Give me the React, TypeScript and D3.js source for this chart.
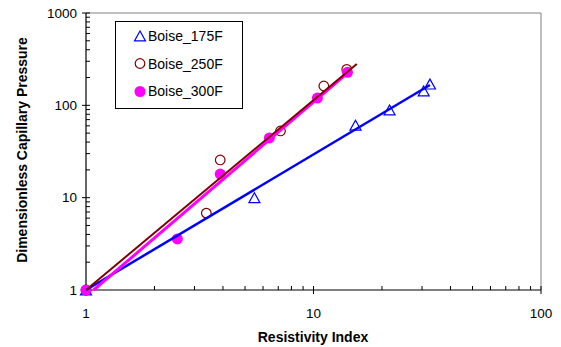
import React from "react";
import * as d3 from "d3";

const ri175 = [1, 5.5, 15.3, 21.6, 30.5, 32.5];
const pc175 = [1, 10, 61, 89, 143, 170];
const ri250 = [1, 3.38, 3.89, 7.16, 11.1, 14.0];
const pc250 = [1, 6.8, 25.6, 52.8, 162, 245];
const ri300 = [1, 2.52, 3.89, 6.4, 10.4, 14.1];
const pc300 = [1, 3.57, 18, 44.3, 120, 228];

const fit175: [number, number][] = [[1, 1], [32.5, 166]];
const fit250: [number, number][] = [[1, 1], [15.5, 281]];
const fit300: [number, number][] = [[1.08, 1], [14.1, 224]];

const xTicks = [1, 10, 100];
const yTicks = [1, 10, 100, 1000];
const legendNames = ["Boise_175F", "Boise_250F", "Boise_300F"];

const W = 561, H = 347;
const L = 86, R = 541, T = 13, B = 290;
const font = "Arial, 'Liberation Sans', sans-serif";

function tri(cx: number, cy: number, s = 11) {
  const h = s * 0.9;
  return `M${cx},${cy - h / 2}L${cx + s / 2},${cy + h / 2}L${cx - s / 2},${cy + h / 2}Z`;
}

export default function App() {
  const x = d3.scaleLog().domain([1, 100]).range([L, R]);
  const y = d3.scaleLog().domain([1, 1000]).range([B, T]);
  const line = d3.line<[number, number]>().x(d => x(d[0])).y(d => y(d[1]));

  const xMinor: number[] = [];
  for (let d = 1; d < 100; d *= 10) for (let k = 2; k <= 9; k++) xMinor.push(d * k);
  const yMinor: number[] = [];
  for (let d = 1; d < 1000; d *= 10) for (let k = 2; k <= 9; k++) yMinor.push(d * k);

  return (
    <svg width={W} height={H} style={{ position: "absolute", left: 0, top: 0 }} fontFamily={font}>
      <rect x={0} y={0} width={W} height={H} fill="#fff" />
      {/* plot border */}
      <line x1={L} y1={T} x2={R} y2={T} stroke="#808080" strokeWidth={1} />
      <line x1={R} y1={T} x2={R} y2={B} stroke="#808080" strokeWidth={1} />
      {/* axes */}
      <line x1={L} y1={T} x2={L} y2={B} stroke="#000" strokeWidth={1.2} />
      <line x1={L} y1={B} x2={R} y2={B} stroke="#000" strokeWidth={1.2} />
      {yTicks.map(v => (
        <g key={"yt" + v}>
          <line x1={L - 4} x2={L + 4} y1={y(v)} y2={y(v)} stroke="#000" />
          <text x={77} y={y(v)} dy="0.35em" textAnchor="end" fontSize={13.5}>{v}</text>
        </g>
      ))}
      {yMinor.map(v => (
        <line key={"ym" + v} x1={L} x2={L + 4} y1={y(v)} y2={y(v)} stroke="#000" />
      ))}
      {xTicks.map(v => (
        <g key={"xt" + v}>
          <line x1={x(v)} x2={x(v)} y1={B - 4} y2={B + 4} stroke="#000" />
          <text x={x(v)} y={318} textAnchor="middle" fontSize={13.5}>{v}</text>
        </g>
      ))}
      {xMinor.map(v => (
        <line key={"xm" + v} x1={x(v)} x2={x(v)} y1={B - 4} y2={B} stroke="#000" />
      ))}
      <text x={313} y={342} textAnchor="middle" fontSize={14} fontWeight="bold">Resistivity Index</text>
      <text transform="translate(27,150) rotate(-90)" textAnchor="middle" fontSize={14} fontWeight="bold">Dimensionless Capillary Pressure</text>

      {/* markers */}
      {ri175.map((v, i) => (
        <path key={"a" + i} d={tri(x(v), y(pc175[i]))} fill="none" stroke="#0000FF" strokeWidth={1.2} />
      ))}
      {ri250.map((v, i) => (
        <circle key={"b" + i} cx={x(v)} cy={y(pc250[i])} r={4.8} fill="none" stroke="#800000" strokeWidth={1.2} />
      ))}
      {ri300.map((v, i) => (
        <circle key={"c" + i} cx={x(v)} cy={y(pc300[i])} r={5.5} fill="#FF00FF" stroke="none" />
      ))}
      {/* fit lines */}
      <path d={line(fit175) || ""} fill="none" stroke="#0000FF" strokeWidth={2.5} />
      <path d={line(fit300) || ""} fill="none" stroke="#FF00FF" strokeWidth={3} />
      <path d={line(fit250) || ""} fill="none" stroke="#800000" strokeWidth={2} />

      {/* legend */}
      <rect x={115.5} y={21.5} width={127} height={87} fill="#fff" stroke="#000" strokeWidth={1} />
      <path d={tri(140, 36)} fill="none" stroke="#0000FF" strokeWidth={1.2} />
      <circle cx={140} cy={63.5} r={4.8} fill="none" stroke="#800000" strokeWidth={1.2} />
      <circle cx={140} cy={91.5} r={5.5} fill="#FF00FF" />
      {legendNames.map((n, i) => (
        <text key={n} x={148} y={36 + i * 27.75} dy="0.35em" fontSize={14}>{n}</text>
      ))}
    </svg>
  );
}
